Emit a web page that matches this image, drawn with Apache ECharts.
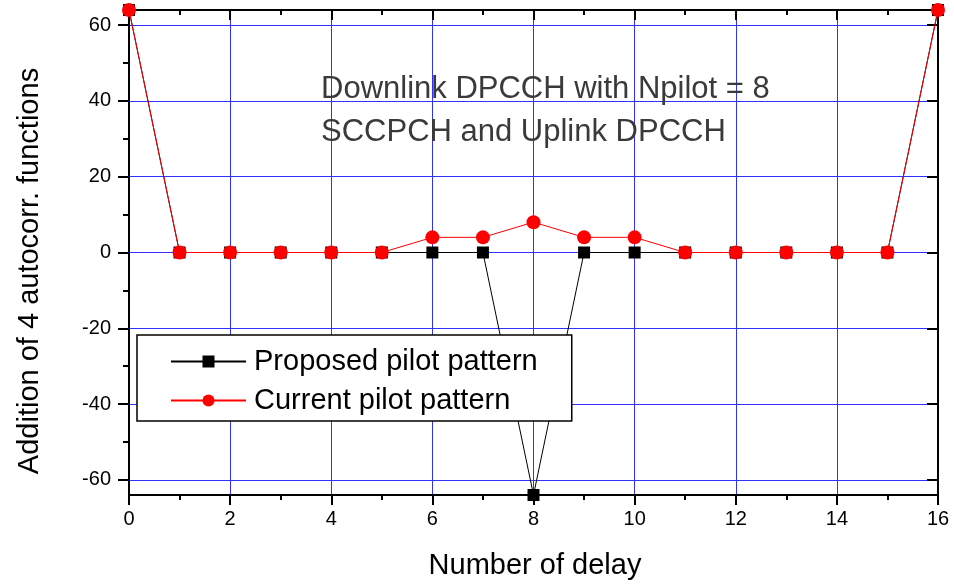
<!DOCTYPE html>
<html><head><meta charset="utf-8">
<script src="https://cdn.jsdelivr.net/npm/echarts@6/dist/echarts.min.js"></script>
<style>html,body{margin:0;padding:0;background:#fff}#c{width:954px;height:584px}</style>
</head><body><div id="c"></div>
<script>
const delays = [0,1,2,3,4,5,6,7,8,9,10,11,12,13,14,15,16];
const proposed = [64,0,0,0,0,0,0,0,-64,0,0,0,0,0,0,0,64];
const current = [64,0,0,0,0,0,4,4,8,4,4,0,0,0,0,0,64];
const yMajorTicks = [-60,-40,-20,0,20,40,60];
const yMinorTicks = [-50,-30,-10,10,30,50];
const seriesNames = ['Proposed pilot pattern','Current pilot pattern'];
const xTitle = 'Number of delay';
const yTitle = 'Addition of 4 autocorr. functions';
const noteLines = ['Downlink DPCCH with Npilot = 8','SCCPCH and Uplink DPCCH'];

const chart = echarts.init(document.getElementById('c'));
const font = 'Liberation Sans, Arial, sans-serif';
const grid = {left:129, right:16, top:10, bottom:89};
const blue = '#3030ff';
const axisLine = {show:true, onZero:false, lineStyle:{color:'#000', width:2}};
const hidden = {show:false};
const yBase = {type:'value', min:-64, max:64, gridIndex:0};
chart.setOption({
  animation:false,
  backgroundColor:'#fff',
  grid: grid,
  xAxis: [
    {type:'value', min:0, max:16, interval:2, position:'bottom',
     axisLine: axisLine,
     axisTick:{show:true, length:10, lineStyle:{color:'#000', width:2}},
     minorTick:{show:true, splitNumber:2, length:5, lineStyle:{color:'#000', width:2}},
     axisLabel:{color:'#000', fontSize:20, fontFamily:font, margin:14},
     splitLine:{show:true, lineStyle:{color:blue, width:1}}},
    {type:'value', min:0, max:16, interval:2, position:'top',
     axisLine: axisLine,
     axisTick:{show:true, inside:true, length:10, lineStyle:{color:'#000', width:2}},
     minorTick:{show:true, splitNumber:2, length:5, lineStyle:{color:'#000', width:2}},
     axisLabel:hidden, splitLine:hidden}
  ],
  yAxis: [
    Object.assign({}, yBase, {position:'left',
     axisLine: axisLine,
     axisTick:{show:true, length:11, customValues:yMajorTicks, lineStyle:{color:'#000', width:2}},
     axisLabel:{color:'#000', fontSize:20, fontFamily:font, margin:18, customValues:yMajorTicks},
     splitLine:{show:true, lineStyle:{color:blue, width:1}}}),
    Object.assign({}, yBase, {position:'left',
     axisLine: hidden,
     axisTick:{show:true, length:6, customValues:yMinorTicks, lineStyle:{color:'#000', width:2}},
     axisLabel:{show:false, customValues:yMinorTicks}, splitLine:hidden}),
    Object.assign({}, yBase, {position:'right',
     axisLine: axisLine,
     axisTick:{show:true, inside:true, length:11, customValues:yMajorTicks, lineStyle:{color:'#000', width:2}},
     axisLabel:{show:false, customValues:yMajorTicks}, splitLine:hidden}),
    Object.assign({}, yBase, {position:'right',
     axisLine: hidden,
     axisTick:{show:true, inside:true, length:6, customValues:yMinorTicks, lineStyle:{color:'#000', width:2}},
     axisLabel:{show:false, customValues:yMinorTicks}, splitLine:hidden})
  ],
  legend: {
    left:137, top:335, orient:'vertical',
    padding:[12,34,6,33], itemGap:10,
    itemWidth:75, itemHeight:15,
    backgroundColor:'#fff', borderColor:'#000', borderWidth:1.5, borderRadius:0,
    textStyle:{color:'#000', fontSize:29, fontFamily:font, padding:[0,0,0,3]},
    data: seriesNames
  },
  series: [
    {name:seriesNames[0], type:'line', xAxisIndex:0, yAxisIndex:0,
     data: delays.map((d,i)=>[d, proposed[i]]),
     symbol:'rect', symbolSize:12, clip:false,
     itemStyle:{color:'#000'}, lineStyle:{color:'#000', width:1}, z:3},
    {name:seriesNames[1], type:'line', xAxisIndex:0, yAxisIndex:0,
     data: delays.map((d,i)=>[d, current[i]]),
     symbol:'circle', symbolSize:14, clip:false,
     itemStyle:{color:'#ff0000'}, lineStyle:{color:'#ff0000', width:1}, z:4}
  ],
  graphic: [
    {type:'text', left:321, top:74, silent:true, z:1,
     style:{text:noteLines[0], fill:'#3a3a3a', font:'300 31px ' + font}},
    {type:'text', left:321, top:117, silent:true, z:1,
     style:{text:noteLines[1], fill:'#3a3a3a', font:'300 31px ' + font}},
    {type:'text', x:535, y:566, silent:true,
     style:{text:xTitle, fill:'#000', font:'29px ' + font, align:'center', verticalAlign:'middle'}},
    {type:'text', x:30, y:271, rotation:Math.PI/2, silent:true,
     style:{text:yTitle, fill:'#000', font:'29px ' + font, align:'center', verticalAlign:'middle'}}
  ]
});
</script></body></html>
